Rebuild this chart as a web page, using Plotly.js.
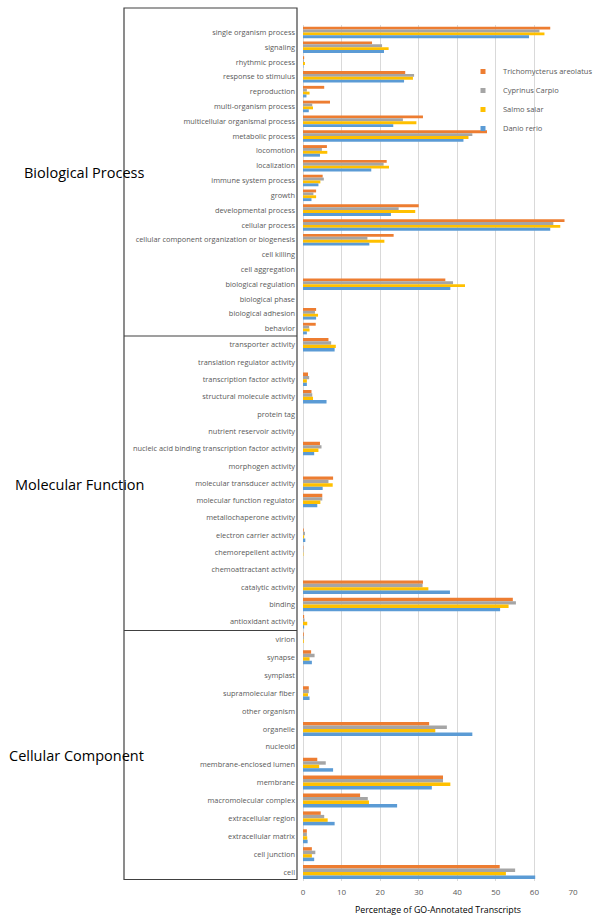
<!DOCTYPE html>
<html>
<head>
<meta charset="utf-8">
<script src="https://cdn.plot.ly/plotly-3.0.1.min.js"></script>
<style>html,body{margin:0;padding:0;background:#fff;}#chart{width:599px;height:920px;}</style>
</head>
<body>
<div id="chart"></div>
<script>
// ---------- data ----------
const species = ["Trichomycterus areolatus", "Cyprinus Carpio", "Salmo salar", "Danio rerio"];
const colors = ["#ED7D31", "#A5A5A5", "#FFC000", "#5B9BD5"];
const sectionNames = ["Biological Process", "Molecular Function", "Cellular Component"];

const bioCats = ["single organism process","signaling","rhythmic process","response to stimulus","reproduction",
  "multi-organism process","multicellular organismal process","metabolic process","locomotion","localization",
  "immune system process","growth","developmental process","cellular process",
  "cellular component organization or biogenesis","cell killing","cell aggregation","biological regulation",
  "biological phase","biological adhesion","behavior"];
const bioTrich = [64.1,17.9,0.3,26.5,5.5,7.0,31.1,47.7,6.2,21.7,5.1,3.4,30.0,67.8,23.5,0,0,36.9,0,3.4,3.3];
const bioCyp   = [61.3,20.5,0.2,28.8,1.0,2.4,25.9,43.9,4.9,20.9,5.4,2.7,24.8,64.9,16.7,0,0,38.9,0,3.1,1.6];
const bioSalmo = [62.6,22.2,0.5,28.5,1.7,2.6,29.4,42.9,6.3,22.3,4.5,3.4,29.1,66.7,21.1,0,0,42.0,0,3.9,1.7];
const bioDanio = [58.6,21.0,0.1,26.2,0.9,1.5,23.4,41.6,4.4,17.7,4.0,2.2,22.8,64.1,17.2,0,0,38.2,0,3.4,1.0];

const molCats = ["transporter activity","translation regulator activity","transcription factor activity",
  "structural molecule activity","protein tag","nutrient reservoir activity",
  "nucleic acid binding transcription factor activity","morphogen activity","molecular transducer activity",
  "molecular function regulator","metallochaperone activity","electron carrier activity",
  "chemorepellent activity","chemoattractant activity","catalytic activity","binding","antioxidant activity"];
const molTrich = [6.6,0,1.3,2.2,0,0,4.4,0,7.8,5.0,0,0.2,0.1,0,31.1,54.4,0.3];
const molCyp   = [7.3,0,1.6,2.4,0,0,4.8,0,6.6,5.0,0,0.5,0.1,0,31.0,55.2,0.4];
const molSalmo = [8.5,0,1.0,2.6,0,0,4.0,0,7.7,4.5,0,0.3,0.1,0,32.5,53.3,1.1];
const molDanio = [8.2,0,1.0,6.1,0,0,2.9,0,5.1,3.7,0,0.6,0,0,38.1,51.1,0.3];

const cellCats = ["virion","synapse","symplast","supramolecular fiber","other organism","organelle","nucleoid",
  "membrane-enclosed lumen","membrane","macromolecular complex","extracellular region","extracellular matrix",
  "cell junction","cell"];
const cellTrich = [0.2,2.1,0,1.5,0,32.7,0,3.7,36.3,14.8,4.6,1.0,2.3,51.0];
const cellCyp   = [0.2,3.0,0,1.5,0,37.3,0,5.9,36.3,16.8,5.5,1.0,3.2,55.0];
const cellSalmo = [0.2,1.7,0,1.3,0,34.3,0,4.2,38.2,17.1,6.4,1.1,2.3,52.6];
const cellDanio = [0,2.3,0,1.7,0,43.9,0,7.8,33.4,24.4,8.2,1.2,2.9,60.2];

const xTickVals = [0,10,20,30,40,50,60,70];
const xTitle = "Percentage of GO-Annotated Transcripts";

// ---------- layout geometry ----------
const W = 599, H = 920;
const M = {l: 303, r: 26, t: 25, b: 39, autoexpand: false};
const plotW = W - M.l - M.r, plotH = H - M.t - M.b;
const px2x = p => (p - M.l) / plotW;
const px2y = p => (H - M.b - p) / plotH;
const bioBottom = 336, molBottom = 630.5;
const domBio = [px2y(bioBottom), 1];
const domMol = [px2y(molBottom), px2y(bioBottom)];
const domCell = [0, px2y(molBottom)];

const sections = [
  {cats: bioCats, vals: [bioTrich, bioCyp, bioSalmo, bioDanio], ax: "y"},
  {cats: molCats, vals: [molTrich, molCyp, molSalmo, molDanio], ax: "y2"},
  {cats: cellCats, vals: [cellTrich, cellCyp, cellSalmo, cellDanio], ax: "y3"}
];

const traces = [];
sections.forEach(sec => {
  species.forEach((sp, i) => {
    traces.push({
      type: "bar", orientation: "h",
      y: sec.cats, x: sec.vals[i],
      name: sp, legendgroup: sp, showlegend: false,
      marker: {color: colors[i]},
      xaxis: "x", yaxis: sec.ax,
      hoverinfo: "x+y+name"
    });
  });
});
// legend entries
species.forEach((sp, i) => {
  traces.push({
    type: "scatter", mode: "markers", x: [null], y: [null],
    name: sp, legendgroup: sp, showlegend: true,
    marker: {symbol: "square", size: 5, color: colors[i]},
    xaxis: "x", yaxis: "y", hoverinfo: "skip"
  });
});

const FF = "Open Sans, Noto Sans, sans-serif";
const labelFont = {family: FF, size: 7.4, color: "#595959"};
function yax(cats, dom) {
  return {
    domain: dom, type: "category", categoryorder: "array", categoryarray: cats,
    autorange: "reversed", showgrid: false, zeroline: false, showline: false,
    ticks: "", ticklabelstandoff: 7, tickfont: labelFont, fixedrange: true
  };
}

const layout = {
  width: W, height: H,
  margin: M,
  paper_bgcolor: "#fff", plot_bgcolor: "#fff",
  barmode: "group", bargap: 0.22, bargroupgap: 0,
  showlegend: true,
  legend: {
    x: px2x(463), y: px2y(57), xanchor: "left", yanchor: "top",
    font: {family: FF, size: 7.5, color: "#595959"},
    bgcolor: "rgba(255,255,255,0)", traceorder: "normal",
    itemwidth: 30
  },
  xaxis: {
    anchor: "y3", range: [0, 70], tickvals: xTickVals, ticktext: xTickVals.map(String),
    showgrid: true, gridcolor: "#D9D9D9", gridwidth: 1,
    zeroline: true, zerolinecolor: "#D9D9D9", zerolinewidth: 1,
    showline: false, ticks: "", ticklabelstandoff: 5,
    tickfont: {family: FF, size: 8, color: "#595959"},
    title: {text: xTitle, standoff: 10, font: {family: FF, size: 8.8, color: "#000"}},
    fixedrange: true
  },
  yaxis: yax(bioCats, domBio),
  yaxis2: yax(molCats, domMol),
  yaxis3: yax(cellCats, domCell),
  shapes: [
    {type: "rect", xref: "paper", yref: "paper", x0: px2x(124), x1: px2x(297), y0: px2y(8), y1: px2y(879.5),
      line: {color: "#404040", width: 1.2}, fillcolor: "rgba(0,0,0,0)"},
    {type: "line", xref: "paper", yref: "paper", x0: px2x(124), x1: px2x(297), y0: px2y(bioBottom), y1: px2y(bioBottom),
      line: {color: "#404040", width: 1.2}},
    {type: "line", xref: "paper", yref: "paper", x0: px2x(124), x1: px2x(297), y0: px2y(molBottom), y1: px2y(molBottom),
      line: {color: "#404040", width: 1.2}}
  ],
  annotations: [
    {text: sectionNames[0], xref: "paper", yref: "paper", x: px2x(146), y: px2y(172), xanchor: "right", yanchor: "middle", showarrow: false,
      font: {family: FF, size: 14.5, color: "#000"}},
    {text: sectionNames[1], xref: "paper", yref: "paper", x: px2x(146), y: px2y(484), xanchor: "right", yanchor: "middle", showarrow: false,
      font: {family: FF, size: 14.5, color: "#000"}},
    {text: sectionNames[2], xref: "paper", yref: "paper", x: px2x(146), y: px2y(755), xanchor: "right", yanchor: "middle", showarrow: false,
      font: {family: FF, size: 14.5, color: "#000"}}
  ]
};

Plotly.newPlot("chart", traces, layout, {displayModeBar: false, staticPlot: true});
</script>
</body>
</html>
